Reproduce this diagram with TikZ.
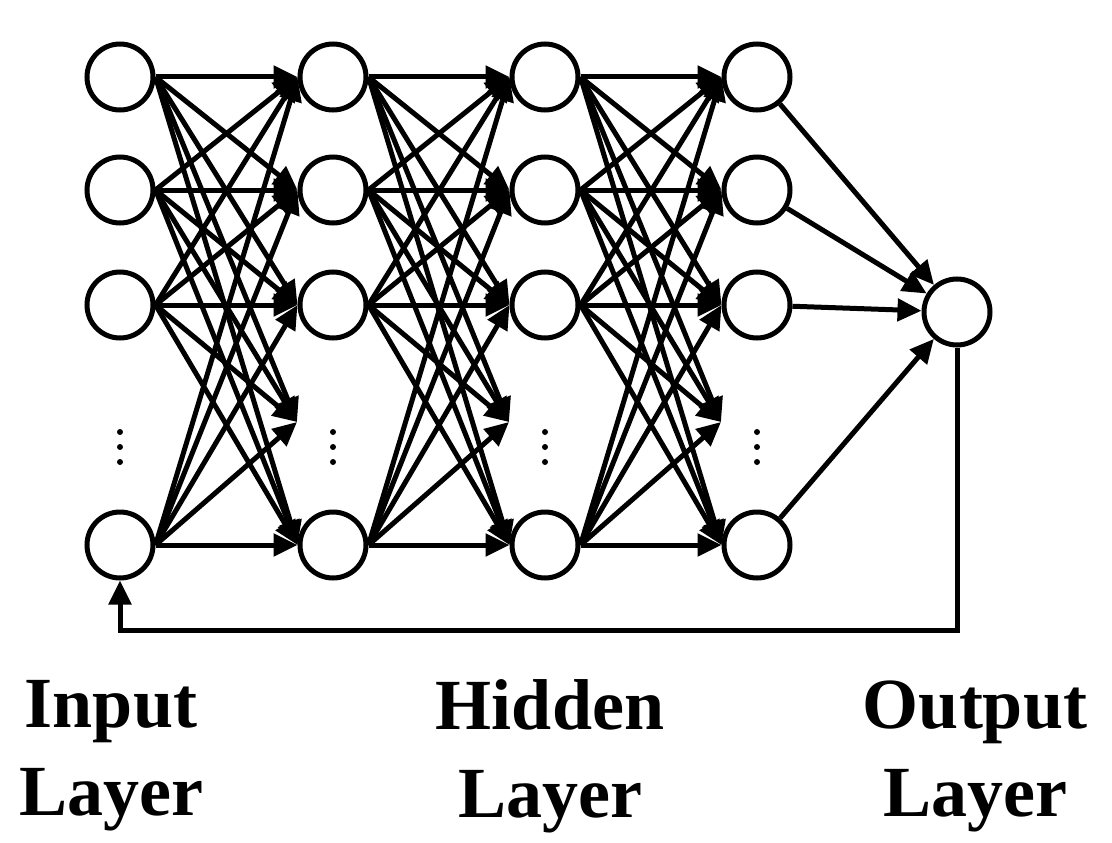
\documentclass[tikz,border=0pt]{standalone}
\usepackage{fontspec}
\setmainfont{Liberation Serif}
\usetikzlibrary{arrows.meta}
\begin{document}
\begin{tikzpicture}[x=1pt,y=-1pt,
  neuron/.style={circle,draw,line width=5pt,minimum size=66pt,inner sep=0pt,fill=white},
  conn/.style={line width=5pt,-{Triangle[length=24pt,width=22pt]}},
  lbl/.style={font=\fontsize{72}{88}\selectfont\bfseries,align=center}]
\useasboundingbox (0,0) rectangle (1112,843);
\foreach \l/\x in {0/120,1/333,2/545,3/757}{
  \foreach \r/\y in {1/77,2/190,3/305,5/545}{
    \node[neuron] (n\l\r) at (\x,\y) {};
  }
  \coordinate (d\l) at (\x-36,422);
  \foreach \dy in {432,447,462} \fill (\x,\dy) circle (3pt);
}
\node[neuron] (out) at (957,312) {};
\foreach \l [evaluate=\l as \m using int(\l+1)] in {0,1,2}{
  \foreach \a in {1,2,3,5}{
    \foreach \b in {1,2,3,5}{
      \draw[conn] (n\l\a.east) -- (n\m\b.west);
    }
    \draw[conn] (n\l\a.east) -- (d\m);
  }
}
\foreach \a in {1,2,3,5} \draw[conn] (n3\a) -- (out);
\coordinate (c1) at (957,630);
\coordinate (c2) at (120,630);
\draw[conn] (out.south) -- (c1) -- (c2) -- (n05.south);
\node[lbl] (t1) at (111,756) {Input\\Layer};
\node[lbl] (t2) at (550,756) {Hidden\\Layer};
\node[lbl] (t3) at (975,756) {Output\\Layer};
\end{tikzpicture}
\end{document}
